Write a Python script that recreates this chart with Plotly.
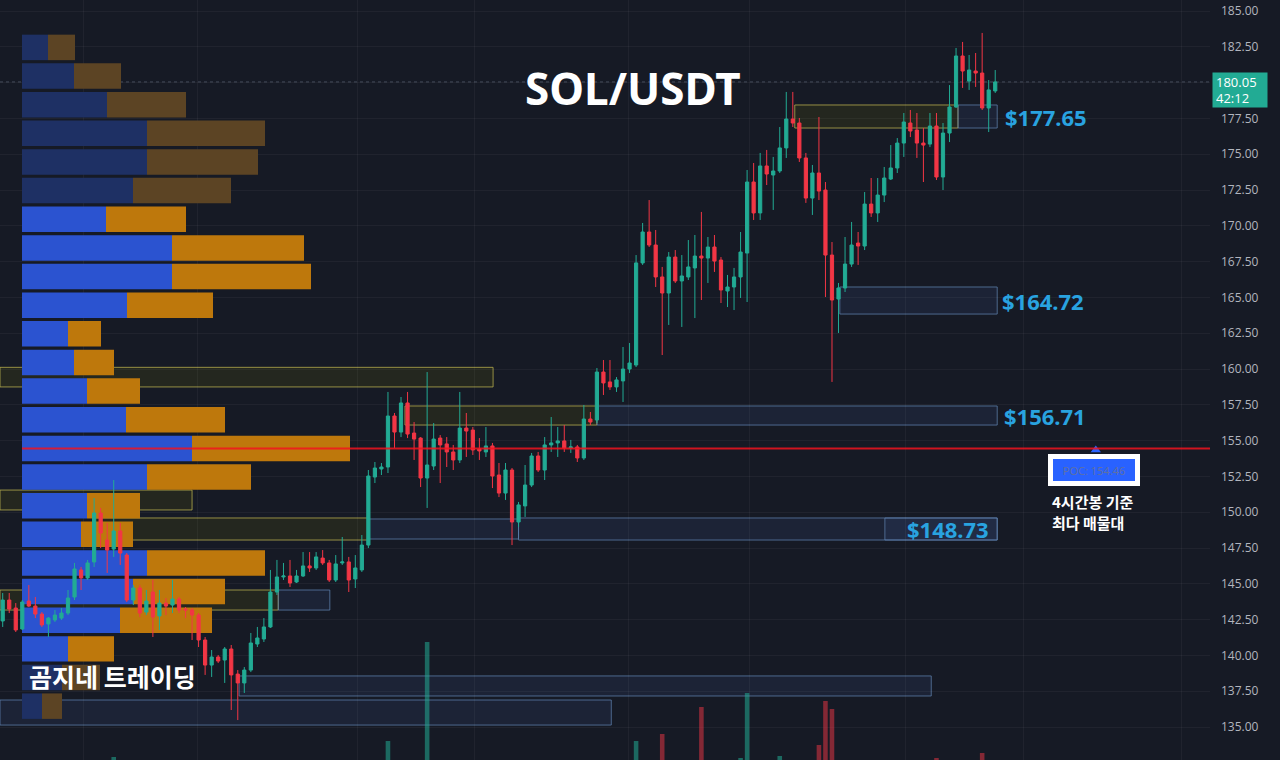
import plotly.graph_objects as go

# ---------------- data ----------------
opens = [142.41,143.87,143.31,141.85,143.80,143.45,142.89,142.20,142.48,142.61,
         142.96,144.08,145.97,145.41,146.53,149.95,148.06,147.43,148.69,147.01,
         143.87,144.71,143.03,144.43,142.76,143.66,143.52,143.94,143.24,143.17,
         142.82,141.08,139.33,139.89,139.68,140.45,138.70,138.08,138.98,140.80,
         141.15,141.99,144.43,145.48,145.55,145.13,145.55,146.25,146.11,146.80,
         146.46,145.27,146.46,146.53,145.34,145.97,147.71,152.46,153.02,153.16,
         156.72,155.60,157.63,155.53,155.18,152.39,153.23,155.18,154.77,154.21,
         153.65,155.88,155.74,154.42,154.21,154.63,152.60,151.34,152.95,149.32,
         150.44,151.90,153.93,152.95,154.70,154.84,154.98,154.49,154.56,153.79,
         156.51,156.44,159.79,159.10,158.75,159.17,160.00,160.28,167.41,169.57,
         168.66,166.43,165.31,167.82,166.15,166.43,167.06,167.89,167.75,168.52,
         167.61,165.45,165.73,166.43,168.10,173.06,170.90,174.18,173.55,173.83,
         175.44,177.46,177.18,174.74,171.94,173.69,172.50,167.96,164.89,165.66,
         167.33,168.80,168.59,171.52,170.90,172.15,173.27,174.04,175.78,177.18,
         176.69,175.78,175.71,176.97,173.41,176.48,178.30,181.86,180.11,180.81,
         180.67,178.23,179.42]
highs = [144.36,144.36,143.66,143.87,144.92,144.08,143.03,142.68,143.17,143.31,
         144.57,146.46,146.18,146.67,150.99,150.30,149.25,152.25,149.25,147.15,
         144.92,144.92,144.57,145.27,144.57,144.01,145.27,144.08,143.38,143.31,
         142.96,141.29,140.38,140.03,140.59,140.73,138.98,139.19,141.57,141.99,
         142.61,145.97,146.67,146.46,146.67,145.97,147.22,147.22,147.22,147.36,
         146.67,147.01,148.27,146.88,147.01,148.41,152.95,153.51,153.44,158.40,
         156.93,158.05,158.40,156.30,155.25,159.79,156.23,155.39,155.25,154.70,
         158.40,156.93,155.95,155.18,155.95,154.84,153.44,153.44,153.09,150.72,
         153.30,154.14,154.21,155.25,156.65,155.95,156.09,155.05,154.70,157.49,
         157.00,160.07,160.63,160.63,159.44,161.54,161.82,167.96,170.20,171.80,
         169.71,167.13,168.17,168.31,167.96,169.01,169.36,170.97,169.22,169.36,
         167.82,166.57,167.06,169.57,173.90,174.39,175.09,175.30,174.81,176.90,
         179.35,179.35,177.53,175.09,174.25,177.60,173.06,168.87,166.01,169.22,
         170.27,169.57,172.36,173.34,173.34,174.11,175.64,176.13,177.88,178.09,
         177.88,176.83,177.88,177.88,177.18,179.83,182.42,182.84,181.93,182.07,
         183.47,180.18,180.88]
lows = [141.99,142.96,141.64,141.78,143.38,142.61,141.99,141.29,142.34,142.48,
        142.82,143.87,144.57,145.27,146.18,147.50,145.76,146.88,146.32,143.73,
        143.52,142.68,142.82,141.29,141.78,142.82,142.96,142.96,142.61,141.08,
        140.59,138.64,138.50,139.47,138.08,136.19,135.49,137.38,138.84,140.59,
        140.94,141.92,144.22,145.27,144.78,145.06,145.48,145.83,145.97,146.32,
        145.13,145.13,146.32,144.43,144.71,145.83,147.50,152.04,152.60,152.74,
        154.49,155.25,155.18,153.65,151.76,150.30,152.95,152.04,153.16,152.95,
        153.44,153.86,154.00,153.65,153.86,151.69,151.06,150.86,147.71,148.97,
        149.67,151.76,152.81,152.25,154.21,153.86,154.21,154.14,153.51,153.65,
        156.09,156.23,158.19,158.54,158.40,157.70,159.72,160.14,167.27,168.52,
        165.73,160.98,163.08,166.01,162.94,166.22,163.56,164.82,166.01,166.78,
        164.61,164.33,164.12,164.96,164.68,170.41,170.41,172.85,171.11,173.69,
        174.74,176.90,174.46,171.60,170.76,171.80,165.03,159.10,162.52,165.38,
        167.13,167.27,168.31,170.62,170.27,171.66,173.20,173.69,174.81,176.20,
        174.74,173.06,175.50,173.20,172.50,175.85,178.23,179.63,179.49,179.70,
        178.09,176.55,179.28]
closes = [143.87,143.24,141.78,143.73,143.45,142.89,142.13,142.61,142.82,142.96,
          144.01,146.04,145.41,146.46,149.95,148.55,147.36,148.69,147.15,143.87,
          144.71,142.96,143.80,142.68,143.66,143.45,143.94,143.17,143.17,142.82,
          141.08,139.33,139.89,139.61,140.45,138.64,138.08,138.98,140.87,141.22,
          141.99,144.43,145.48,145.55,145.06,145.55,146.25,146.11,146.88,146.46,
          145.27,146.39,146.53,145.27,146.11,147.71,152.53,153.09,153.16,156.72,
          155.60,157.63,155.46,155.11,152.39,153.30,155.11,154.70,154.21,153.65,
          155.88,155.67,154.35,154.28,154.63,152.53,151.34,152.95,149.32,150.51,
          151.90,153.93,152.95,154.70,154.84,154.98,154.49,154.56,153.79,156.51,
          156.30,159.79,159.03,158.75,159.24,160.00,160.42,167.41,169.57,168.66,
          166.43,165.31,167.82,166.15,166.50,167.13,167.89,167.75,168.52,167.54,
          165.52,165.73,166.43,168.17,173.06,170.90,174.18,173.62,173.83,175.44,
          177.46,177.18,174.74,171.94,173.69,172.43,167.96,164.82,165.66,167.33,
          168.66,168.59,171.52,170.90,172.15,173.34,174.04,175.78,177.25,176.62,
          175.78,175.64,176.97,173.41,176.48,178.30,181.86,180.81,180.88,180.67,
          178.23,179.49,180.05]
candle_idx = list(range(len(opens)))

# visible tops of the volume histogram (bars rising from below the frame)
vol_idx = [17, 59, 65, 97, 101, 107, 113, 114, 119, 125, 126, 127, 143, 150]
vol_val = [3, 19, 118, 19, 26, 53, 2, 67, 4, 15, 59, 51, 2, 7]

# volume profile (4h), rows of 2.0 price
profile_price = [182.46, 180.46, 178.46, 176.46, 174.46, 172.46, 170.46, 168.46,
                 166.46, 164.46, 162.46, 160.46, 158.46, 156.46, 154.46, 152.46,
                 150.46, 148.46, 146.46, 144.46, 142.46, 140.46, 138.46, 136.46]
profile_buy = [26, 52, 85, 125, 125, 111, 84, 150, 150, 105, 46, 52,
               65, 104, 170, 125, 65, 59, 125, 111, 98, 46, 40, 20]
profile_sell = [27, 47, 79, 118, 111, 98, 80, 132, 139, 86, 33, 40,
                53, 99, 158, 104, 53, 52, 118, 92, 92, 46, 38, 20]
profile_in_value_area = [0, 0, 0, 0, 0, 0, 1, 1, 1, 1, 1, 1,
                         1, 1, 1, 1, 1, 1, 1, 1, 1, 1, 0, 0]

poc_price = 154.46
last_price = 180.05
last_timer = "42:12"
poc_note = ["4시간봉 기준", "최다 매물대"]

# zones: (kind, start candle, end candle, top price, bottom price); None = from left edge
zones = [
    ("y", None, 75.1, 160.12, 158.75),
    ("y", None, 29.0, 151.55, 150.16),
    ("y", 14.0, 56.0, 149.60, 148.06),
    ("b", 56.0, 79.0, 149.53, 148.13),
    ("b", 79.0, 152.3, 149.60, 148.06),
    ("b", 135.1, 152.3, 149.60, 148.06),
    ("y", None, 42.2, 144.57, 143.17),
    ("b", 42.2, 50.1, 144.57, 143.17),
    ("y", 61.6, 91.0, 157.42, 156.09),
    ("b", 91.0, 152.3, 157.42, 156.09),
    ("b", 128.2, 152.3, 165.73, 163.84),
    ("y", 121.3, 146.3, 178.44, 176.83),
    ("b", 146.3, 152.3, 178.44, 176.83),
    ("b", 36.2, 142.2, 138.57, 137.17),
    ("b", None, 93.2, 136.89, 135.14),
]
zone_labels = [("$177.65", 153.2, 177.63, "left"),
               ("$164.72", 152.7, 164.78, "left"),
               ("$156.71", 153.0, 156.75, "left"),
               ("$148.73", 144.7, 148.83, "center")]

price_ticks = [135.0, 137.5, 140.0, 142.5, 145.0, 147.5, 150.0, 152.5, 155.0, 157.5,
               160.0, 162.5, 165.0, 167.5, 170.0, 172.5, 175.0, 177.5, 180.0, 182.5, 185.0]
time_grid = [12.3, 29.9, 54.3, 72.3, 95.9, 114.3, 138.3, 156.4, 180.5]

# ---------------- style ----------------
BG = "#161a25"
GRID = "rgba(255,255,255,0.045)"
GREEN = "#22ab94"
RED = "#f23645"
X_MIN, X_MAX = -0.4135, 184.89
Y_MIN, Y_MAX = 132.70, 185.77

fig = go.Figure()

# volume
vol_colors = ["rgba(34,171,148,0.55)" if closes[i] >= opens[i] else "rgba(242,54,69,0.5)"
              for i in vol_idx]
fig.add_trace(go.Bar(x=vol_idx, y=vol_val, marker=dict(color=vol_colors, line=dict(width=0)),
                     width=0.7, xaxis="x2", yaxis="y2", hoverinfo="skip", showlegend=False))

# volume profile
buy_col = ["#2b53d0" if v else "#1e3064" for v in profile_in_value_area]
sell_col = ["#be780c" if v else "#5c4424" for v in profile_in_value_area]
fig.add_trace(go.Bar(orientation="h", x=profile_buy, y=profile_price, width=1.78,
                     marker=dict(color=buy_col, line=dict(width=0)),
                     xaxis="x", yaxis="y", hoverinfo="skip", showlegend=False))
fig.add_trace(go.Bar(orientation="h", x=profile_sell, base=profile_buy, y=profile_price, width=1.78,
                     marker=dict(color=sell_col, line=dict(width=0)),
                     xaxis="x", yaxis="y", hoverinfo="skip", showlegend=False))

# candles
fig.add_trace(go.Candlestick(x=candle_idx, open=opens, high=highs, low=lows, close=closes,
                             xaxis="x2", yaxis="y",
                             increasing=dict(line=dict(color=GREEN, width=1), fillcolor=GREEN),
                             decreasing=dict(line=dict(color=RED, width=1), fillcolor=RED),
                             whiskerwidth=0, hoverinfo="skip", showlegend=False))

# POC marker triangle
fig.add_trace(go.Scatter(x=[167.4], y=[poc_price - 0.12], mode="markers",
                         marker=dict(symbol="triangle-up", size=9, color="#2962ff"),
                         xaxis="x2", yaxis="y", hoverinfo="skip", showlegend=False))

shapes = []
for kind, x0, x1, top, bot in zones:
    if kind == "y":
        lc, fc = "rgba(190,180,80,0.75)", "rgba(70,70,20,0.30)"
    else:
        lc, fc = "rgba(95,130,175,0.75)", "rgba(60,90,140,0.16)"
    shapes.append(dict(type="rect", xref="x2", yref="y",
                       x0=X_MIN if x0 is None else x0, x1=x1, y0=bot, y1=top,
                       line=dict(color=lc, width=1), fillcolor=fc, layer="below"))
# last price line
shapes.append(dict(type="line", xref="paper", yref="y", x0=0, x1=1, y0=last_price, y1=last_price,
                   line=dict(color="rgba(150,160,185,0.35)", width=1, dash="dot"), layer="below"))
# POC line
shapes.append(dict(type="line", xref="x", yref="y", x0=0, x1=1188, y0=poc_price, y1=poc_price,
                   line=dict(color="rgba(242,20,30,0.85)", width=2), layer="above"))

annotations = [
    dict(text="<b>SOL/USDT</b>", xref="paper", yref="paper", x=0.523, y=0.884,
         xanchor="center", yanchor="middle", showarrow=False,
         font=dict(family="Noto Sans, Open Sans, sans-serif", size=44, color="#ffffff")),
    dict(text="<b>곰지네 트레이딩</b>", xref="paper", yref="paper", x=0.022, y=1 - 676 / 760,
         xanchor="left", yanchor="middle", showarrow=False,
         font=dict(family="Noto Sans CJK KR", size=25, color="#ffffff")),
    dict(text=f"POC: {poc_price:.2f}", xref="x2", yref="y", x=167.1, y=152.98,
         xanchor="center", yanchor="middle", showarrow=False,
         bgcolor="#2962ff", bordercolor="#ffffff", borderwidth=5, borderpad=2,
         width=78, height=18,
         font=dict(family="Noto Sans, sans-serif", size=11, color="#5d70a6")),
    dict(text=f"{last_price:.2f}<br>{last_timer}", xref="paper", yref="y", x=1.0, y=last_price,
         xanchor="left", yanchor="top", yshift=10, xshift=2, align="left", showarrow=False,
         bgcolor=GREEN, borderpad=3, width=48, height=28,
         font=dict(family="Open Sans, sans-serif", size=13, color="#ffffff")),
]
# two-line note under the POC label
for k, line in enumerate(poc_note):
    annotations.append(dict(text=f"<b>{line}</b>", xref="x2", yref="y", x=160.4, y=151.6,
                            xanchor="left", yanchor="top", yshift=-21 * k, showarrow=False,
                            font=dict(family="Noto Sans CJK KR", size=15, color="#ffffff")))
for txt, xi, yp, anch in zone_labels:
    annotations.append(dict(text=f"<b>{txt}</b>", xref="x2", yref="y", x=xi, y=yp,
                            xanchor=anch, yanchor="middle", showarrow=False,
                            font=dict(family="Noto Sans, Open Sans, sans-serif", size=22,
                                      color="#29a3e0")))

# the 180.00 label sits under the live price tag in the reference, so it is left blank
tick_text = ["" if abs(v - last_price) < 1.0 else f"{v:.2f}" for v in price_ticks]

fig.update_layout(
    width=1280, height=760, autosize=False,
    margin=dict(l=0, r=70, t=0, b=0),
    paper_bgcolor=BG, plot_bgcolor=BG,
    barmode="overlay", showlegend=False,
    xaxis=dict(range=[-22, 1188], visible=False, fixedrange=True),
    xaxis2=dict(overlaying="x", range=[X_MIN, X_MAX], tickvals=time_grid, showticklabels=False,
                showgrid=True, gridcolor=GRID, zeroline=False, showline=False, ticks="",
                rangeslider=dict(visible=False), fixedrange=True),
    yaxis=dict(range=[Y_MIN, Y_MAX], side="right", tickvals=price_ticks,
               ticktext=tick_text, showgrid=True, gridcolor=GRID,
               zeroline=False, showline=False, ticks="", ticklabelstandoff=10,
               tickfont=dict(family="Open Sans, sans-serif", size=12, color="#b2b5be"),
               fixedrange=True),
    yaxis2=dict(overlaying="y", range=[0, 760], visible=False, fixedrange=True),
    shapes=shapes, annotations=annotations,
)

fig.write_html("out.html", config={"displayModeBar": False},
               post_script="document.body.style.margin='0';document.body.style.overflow='hidden';document.body.style.background='#161a25';")
